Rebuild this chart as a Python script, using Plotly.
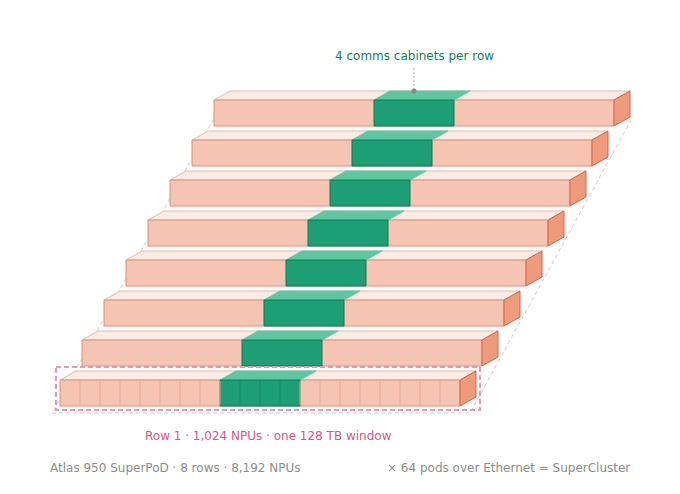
import plotly.graph_objects as go

# data: one entry per row of the pod, front row first
rows = ["Row 1", "Row 2", "Row 3", "Row 4", "Row 5", "Row 6", "Row 7", "Row 8"]
cabinets = [20, 20, 20, 20, 20, 20, 20, 20]
comms_start = [8, 8, 8, 8, 8, 8, 8, 8]
comms_count = [4, 4, 4, 4, 4, 4, 4, 4]
highlight_row = "Row 1"

title_note = "4 comms cabinets per row"
row_note = "Row 1 · 1,024 NPUs · one 128 TB window"
footer_left = "Atlas 950 SuperPoD · 8 rows · 8,192 NPUs"
footer_right = "× 64 pods over Ethernet = SuperCluster"

# geometry (pixels, y grows downward)
X0, Y0 = 60, 380
CAB_W, FRONT_H = 20, 26
ROW_DX, ROW_DY = 22, 40
DEPTH_DX, DEPTH_DY = 16, 9
PAGE_PAD = 8  # body margin of the page around the plot

FONT = "DejaVu Sans"
SALMON, SALMON_LINE = "#F5C4B3", "#D8937B"
TOP, TOP_LINE = "#FAEBE5", "#E2BBAC"
SIDE, SIDE_LINE = "#F09A7C", "#C9694D"
GREEN, GREEN_LINE, GREEN_TOP = "#1E9E75", "#15775A", "#5CC8A2"


def poly(xs, ys, pts):
    for x, y in pts + [pts[0]]:
        xs.append(x)
        ys.append(y)
    xs.append(None)
    ys.append(None)


geo = []
for i, name in enumerate(rows):
    xl = X0 + i * ROW_DX
    xr = xl + cabinets[i] * CAB_W
    yt = Y0 - i * ROW_DY
    yb = yt + FRONT_H
    gx0 = xl + comms_start[i] * CAB_W
    gx1 = gx0 + comms_count[i] * CAB_W
    geo.append(dict(name=name, xl=xl, xr=xr, yt=yt, yb=yb, gx0=gx0, gx1=gx1, n=cabinets[i]))

faces = {k: ([], []) for k in ["top", "gtop", "front", "gfront", "side"]}
for g in geo:
    xl, xr, yt, yb, gx0, gx1 = g["xl"], g["xr"], g["yt"], g["yb"], g["gx0"], g["gx1"]
    poly(*faces["top"], [(xl, yt), (xr, yt), (xr + DEPTH_DX, yt - DEPTH_DY), (xl + DEPTH_DX, yt - DEPTH_DY)])
    poly(*faces["gtop"], [(gx0, yt), (gx1, yt), (gx1 + DEPTH_DX, yt - DEPTH_DY), (gx0 + DEPTH_DX, yt - DEPTH_DY)])
    poly(*faces["front"], [(xl, yt), (xr, yt), (xr, yb), (xl, yb)])
    poly(*faces["gfront"], [(gx0, yt), (gx1, yt), (gx1, yb), (gx0, yb)])
    poly(*faces["side"], [(xr, yt), (xr + DEPTH_DX, yt - DEPTH_DY), (xr + DEPTH_DX, yb - DEPTH_DY), (xr, yb)])

fig = go.Figure()

# dashed floor outline behind the rows
first, last = geo[0], geo[-1]
slope = ROW_DX / ROW_DY
fy0 = first["yb"] + 7
fy1 = last["yt"] + 20
shift = slope * (fy0 - fy1)
fx0, fx1 = first["xl"] - 8, first["xr"] + 10
fig.add_trace(go.Scatter(
    x=[fx0, fx1, fx1 + shift, fx0 + shift, fx0], y=[fy0, fy0, fy1, fy1, fy0],
    mode="lines", line=dict(color="#C8C8C8", width=1, dash="4px,3px"), hoverinfo="skip"))

styles = [
    ("top", TOP, TOP_LINE),
    ("gtop", GREEN_TOP, GREEN_TOP),
    ("front", SALMON, SALMON_LINE),
    ("gfront", GREEN, GREEN_LINE),
    ("side", SIDE, SIDE_LINE),
]
for key, fill, line in styles:
    xs, ys = faces[key]
    fig.add_trace(go.Scatter(
        x=xs, y=ys, mode="lines", fill="toself", fillcolor=fill,
        line=dict(color=line, width=1), hoverinfo="skip"))

# cabinet dividers on the highlighted row
h = geo[rows.index(highlight_row)]
dx, dy, dgx, dgy = [], [], [], []
for k in range(1, h["n"]):
    x = h["xl"] + k * CAB_W
    tx, ty = (dgx, dgy) if h["gx0"] < x < h["gx1"] else (dx, dy)
    tx += [x, x, None]
    ty += [h["yt"] + 1, h["yb"] - 1, None]
fig.add_trace(go.Scatter(x=dx, y=dy, mode="lines", line=dict(color="#E8A993", width=1), hoverinfo="skip"))
fig.add_trace(go.Scatter(x=dgx, y=dgy, mode="lines", line=dict(color="#178A64", width=1), hoverinfo="skip"))

# highlight box around row 1
px0, px1 = h["xl"] - 4, h["xr"] + DEPTH_DX + 4
py0, py1 = h["yt"] - DEPTH_DY - 4, h["yb"] + 4
fig.add_trace(go.Scatter(
    x=[px0, px1, px1, px0, px0], y=[py0, py0, py1, py1, py0],
    mode="lines", line=dict(color="#E39BB5", width=2, dash="5px,3px"), hoverinfo="skip"))

# leader to the comms cabinets of the back row
lx = (last["gx0"] + last["gx1"]) / 2
ly = last["yt"] - DEPTH_DY
fig.add_trace(go.Scatter(x=[lx, lx], y=[ly - 23, ly - 2], mode="lines",
                         line=dict(color="#C8C8C8", width=1.5, dash="2px,2px"), hoverinfo="skip"))
fig.add_trace(go.Scatter(x=[lx], y=[ly], mode="markers",
                         marker=dict(color="#888888", size=5), hoverinfo="skip"))

annotations = [
    dict(x=lx, y=ly - 35, text=title_note, font=dict(color="#1B7A5C", size=12)),
    dict(x=(h["xl"] + h["xr"]) / 2 + 8, y=436, text=row_note, font=dict(color="#D6558A", size=12)),
    dict(x=48, y=468, text=footer_left, xanchor="left", font=dict(color="#8C8C8C", size=12)),
    dict(x=632, y=468, text=footer_right, xanchor="right", font=dict(color="#8C8C8C", size=12)),
]
for a in annotations:
    a.setdefault("xanchor", "center")
    a.update(xref="x", yref="y", showarrow=False, yanchor="middle")
    a["font"]["family"] = FONT

fig.update_layout(
    width=680, height=494, margin=dict(l=0, r=0, t=0, b=0),
    paper_bgcolor="white", plot_bgcolor="white", showlegend=False,
    annotations=annotations,
    xaxis=dict(range=[PAGE_PAD, 680 + PAGE_PAD], visible=False, fixedrange=True),
    yaxis=dict(range=[494 + PAGE_PAD, PAGE_PAD], visible=False, fixedrange=True),
)

fig.write_html("out.html")
